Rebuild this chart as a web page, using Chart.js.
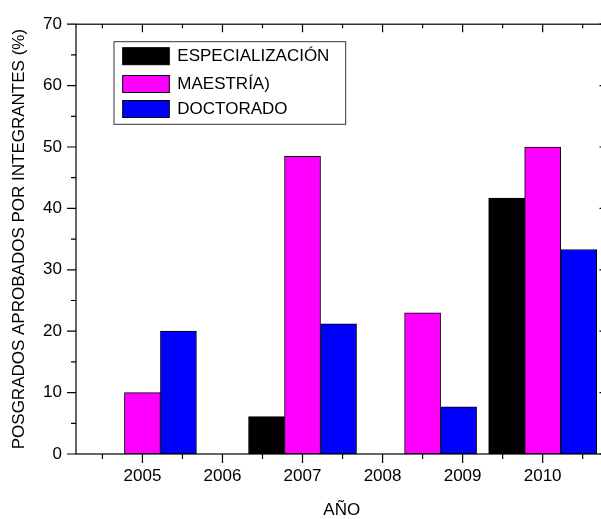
<!DOCTYPE html>
<html>
<head>
<meta charset="utf-8">
<script src="https://cdn.jsdelivr.net/npm/chart.js@4.4.1/dist/chart.umd.min.js"></script>
<style>
  html, body { margin: 0; padding: 0; background: #fff; overflow: hidden; width: 601px; height: 519px; }
  #wrap { width: 616px; height: 519px; }
</style>
</head>
<body>
<div id="wrap"><canvas id="c" width="616" height="519"></canvas></div>
<script>
/* ── Datos ── */
const tickYears  = [2005, 2006, 2007, 2008, 2009, 2010];   // etiquetas del eje X
const barPos     = [2005, 2007, 2008.5, 2010];             // posición de cada grupo de barras
const series     = ['ESPECIALIZACIÓN', 'MAESTRÍA)', 'DOCTORADO'];
const especializacion = [0, 6.1, 0, 41.7];
const maestria        = [10.0, 48.5, 23.0, 50.0];
const doctorado       = [20.0, 21.2, 7.7, 33.3];
const yTicks = [0, 10, 20, 30, 40, 50, 60, 70];

const colores = ['#000000', '#ff00ff', '#0000ff'];
const font = { family: "'Liberation Sans', Arial, sans-serif", size: 17 };

const pts = arr => barPos.map((x, i) => ({ x, y: arr[i] }));

/* ── Marco estilo Origin: ejes en los 4 lados + ticks menores + leyenda ── */
const marcoOrigin = {
  id: 'marcoOrigin',
  afterDatasetsDraw(chart) {
    const { ctx, chartArea: a, scales: { x, y } } = chart;
    ctx.save();
    ctx.strokeStyle = '#000';
    ctx.lineWidth = 1.2;
    ctx.strokeRect(a.left, a.top, a.right - a.left, a.bottom - a.top);

    ctx.beginPath();
    // eje X: abajo hacia afuera, arriba hacia adentro
    for (let v = tickYears[0] - 0.5; v <= tickYears[tickYears.length - 1] + 0.5; v += 0.5) {
      const big = Number.isInteger(v);
      const px = x.getPixelForValue(v);
      ctx.moveTo(px, a.bottom); ctx.lineTo(px, a.bottom + (big ? 9 : 5));
      ctx.moveTo(px, a.top);    ctx.lineTo(px, a.top + (big ? 8 : 4));
    }
    // eje Y: izquierda hacia afuera, derecha hacia adentro
    for (let v = 0; v <= 70; v += 5) {
      const big = v % 10 === 0;
      const py = y.getPixelForValue(v);
      ctx.moveTo(a.left, py);  ctx.lineTo(a.left - (big ? 9 : 5), py);
      ctx.moveTo(a.right, py); ctx.lineTo(a.right - (big ? 8 : 4), py);
    }
    ctx.stroke();

    // ── Leyenda ──
    ctx.fillStyle = '#fff';
    ctx.fillRect(114, 41.7, 231.7, 82.6);
    ctx.strokeStyle = '#333';
    ctx.lineWidth = 1;
    ctx.strokeRect(114, 41.7, 231.7, 82.6);
    const rowsY = [56.2, 84, 109];
    ctx.font = `${font.size}px ${font.family}`;
    ctx.textBaseline = 'middle';
    chart.data.datasets.forEach((ds, i) => {
      const cy = rowsY[i];
      ctx.fillStyle = ds.backgroundColor;
      ctx.fillRect(122.7, cy - 8.5, 46.6, 17);
      ctx.strokeStyle = '#000';
      ctx.strokeRect(122.7, cy - 8.5, 46.6, 17);
      ctx.fillStyle = '#000';
      ctx.fillText(ds.label, 177.3, cy);
    });
    ctx.restore();
  }
};

new Chart(document.getElementById('c'), {
  type: 'bar',
  data: {
    datasets: [
      { label: series[0], data: pts(especializacion), backgroundColor: colores[0] },
      { label: series[1], data: pts(maestria),        backgroundColor: colores[1] },
      { label: series[2], data: pts(doctorado),       backgroundColor: colores[2] },
    ],
  },
  options: {
    responsive: false,
    animation: false,
    devicePixelRatio: 1,
    layout: { padding: { top: 17.7, right: 8.5, bottom: 0, left: 0 } },
    plugins: { legend: { display: false }, tooltip: { enabled: false } },
    datasets: {
      bar: { barThickness: 36, borderWidth: 1, borderColor: '#000', borderSkipped: false },
    },
    scales: {
      x: {
        type: 'linear',
        offset: false,
        min: 2004.17,
        max: 2010.81,
        grid: { display: false, drawTicks: false, offset: false },
        border: { display: false },
        afterBuildTicks: s => { s.ticks = tickYears.map(v => ({ value: v })); },
        ticks: { padding: 12.3, color: '#000', font, maxRotation: 0, autoSkip: false, callback: v => String(v) },
        title: { display: true, text: 'AÑO', color: '#000', font: { ...font, lineHeight: 1 }, padding: { top: 0, bottom: 0 } },
        afterFit: s => { s.height = 65; },
      },
      y: {
        min: 0,
        max: 70,
        afterBuildTicks: s => { s.ticks = yTicks.map(v => ({ value: v })); },
        grid: { display: false, drawTicks: false },
        border: { display: false },
        ticks: { padding: 14, color: '#000', font },
        title: {
          display: true,
          text: 'POSGRADOS APROBADOS POR INTEGRANTES (%)',
          color: '#000',
          font,
          padding: { top: 8.8, bottom: 0 },
        },
        afterFit: s => { s.width = 76; },
      },
    },
  },
  plugins: [marcoOrigin],
});
</script>
</body>
</html>
